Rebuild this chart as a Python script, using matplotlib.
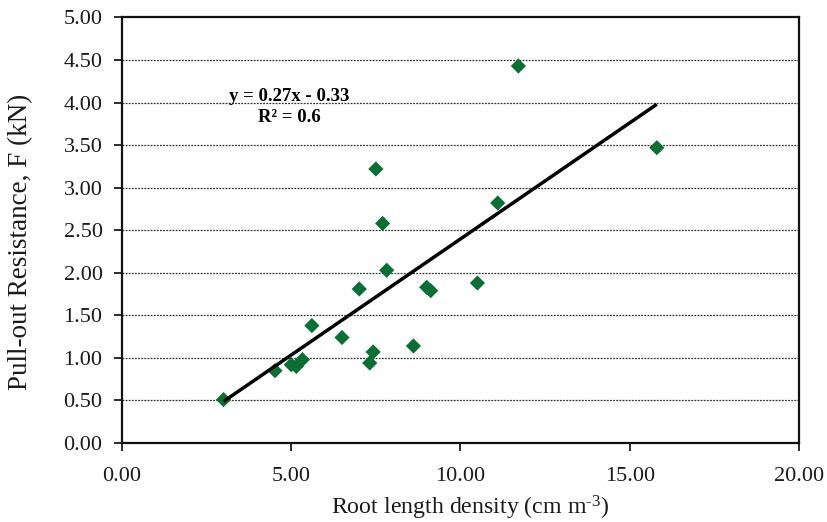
import matplotlib
matplotlib.use("Agg")
import matplotlib.pyplot as plt
import numpy as np

# Data
root_length_density = [3.0, 4.52, 5.0, 5.15, 5.33, 5.61, 6.5, 7.01, 7.32, 7.42,
                       7.5, 7.7, 7.82, 8.61, 9.0, 9.12, 10.5, 11.1, 11.71, 15.8]
pullout_resistance = [0.51, 0.85, 0.92, 0.90, 0.98, 1.38, 1.24, 1.81, 0.94, 1.07,
                      3.22, 2.58, 2.03, 1.14, 1.83, 1.79, 1.88, 2.82, 4.43, 3.47]
trend_slope = 0.2728
trend_intercept = -0.33
x_ticks = [0, 5, 10, 15, 20]
y_ticks = [0, 0.5, 1.0, 1.5, 2.0, 2.5, 3.0, 3.5, 4.0, 4.5, 5.0]

plt.rcParams['font.family'] = ['Liberation Serif', 'DejaVu Serif']
plt.rcParams['mathtext.fontset'] = 'custom'
plt.rcParams['mathtext.rm'] = 'Liberation Serif'
plt.rcParams['mathtext.it'] = 'Liberation Serif:italic'
plt.rcParams['mathtext.bf'] = 'Liberation Serif:bold'

fig = plt.figure(figsize=(8.28, 5.22), dpi=100)
ax = fig.add_axes([0.1473, 0.1513, 0.965 - 0.1473, 0.9665 - 0.1513])

ax.set_xlim(0, 20)
ax.set_ylim(0, 5)
ax.set_xticks(x_ticks)
ax.set_yticks(y_ticks)
ax.set_xticklabels([f"{v:.2f}" for v in x_ticks])
ax.set_yticklabels([f"{v:.2f}" for v in y_ticks])

for yv in y_ticks[1:-1]:
    ax.axhline(yv, color='#333333', linestyle=(0, (1.5, 1)), linewidth=0.9, zorder=1)

ax.scatter(root_length_density, pullout_resistance, marker='D', s=60,
           color='#0B6E35', edgecolors='none', zorder=3)

xs = np.array([min(root_length_density), max(root_length_density)])
ax.plot(xs, trend_slope * xs + trend_intercept, color='black', linewidth=2.5, zorder=4,
        solid_capstyle='butt')

ax.text(4.95, 4.07, "y = 0.27x - 0.33", ha='center', va='center', fontsize=13.5,
        fontweight='bold', zorder=5)
ax.text(4.95, 3.83, "R² = 0.6", ha='center', va='center', fontsize=13.5,
        fontweight='bold', zorder=5)

for sp in ax.spines.values():
    sp.set_linewidth(1.6)
    sp.set_color('#111111')

ax.tick_params(axis='both', direction='out', length=6, width=1.3, labelsize=16,
               colors='#1a1a1a')
ax.tick_params(axis='y', pad=8)
ax.tick_params(axis='x', pad=11)

fig.text(470 / 828, 1 - 514 / 522, "Root length density (cm m$^{\\text{-3}}$)",
         fontsize=17.2, ha='center', va='baseline', color='#1a1a1a')
fig.text(21 / 828, 1 - 242 / 522, "Pull-out Resistance, F (kN)",
         fontsize=19.5, ha='center', va='center', rotation=90, color='#1a1a1a')

fig.savefig("out.png", dpi=100)
